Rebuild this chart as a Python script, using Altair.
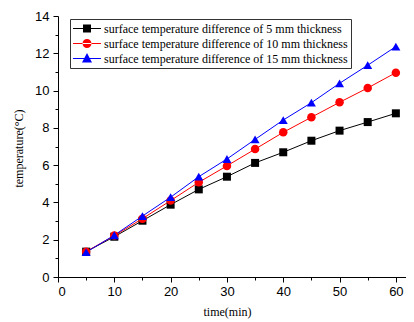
import altair as alt
import pandas as pd

times = [5, 10, 15, 20, 25, 30, 35, 40, 45, 50, 55, 60]
t5 = [1.36, 2.16, 3.02, 3.88, 4.70, 5.38, 6.12, 6.69, 7.31, 7.85, 8.31, 8.78]
t10 = [1.36, 2.22, 3.13, 4.10, 5.08, 5.96, 6.86, 7.76, 8.57, 9.37, 10.14, 10.96]
t15 = [1.33, 2.24, 3.27, 4.28, 5.38, 6.33, 7.38, 8.42, 9.35, 10.39, 11.36, 12.36]
names = [
    "surface temperature difference of 5 mm thickness",
    "surface temperature difference of 10 mm thickness",
    "surface temperature difference of 15 mm thickness",
]
colors = ["#000000", "#ff0000", "#0000ff"]
shapes = ["square", "circle", "triangle-up"]
legend_paths = [
    "M-2.15,-0.077H2.15V0.077H-2.15Z M-0.615,-0.615H0.615V0.615H-0.615Z",
    "M-2.15,-0.077H2.15V0.077H-2.15Z M-0.69,0A0.69,0.69,0,1,0,0.69,0A0.69,0.69,0,1,0,-0.69,0Z",
    "M-2.15,-0.077H2.15V0.077H-2.15Z M0,-0.85L0.77,0.62H-0.77Z",
]

rows = []
for name, vals in zip(names, [t5, t10, t15]):
    for t, v in zip(times, vals):
        rows.append({"time": t, "temp": v, "series": name})
df = pd.DataFrame(rows)

xscale = alt.Scale(domain=[0, 61.8], nice=False, zero=False)
yscale = alt.Scale(domain=[0, 14], nice=False)

xaxis = alt.Axis(
    values=list(range(0, 62, 5)),
    labelExpr="datum.value % 10 ? '' : datum.label",
    labelFontSize={"condition": {"test": "datum.value % 10", "value": 0}, "value": 13},
    tickSize={"condition": {"test": "datum.value % 10", "value": 3}, "value": 5},
    labelOverlap=False,
    grid=False,
    domainColor="black", tickColor="black", labelColor="black",
    labelFont="Liberation Sans", labelPadding=3,
    title="time(min)", titleFont="Liberation Serif", titleFontSize=12,
    titleFontWeight="normal", titleColor="black", titleX=169, titleY=29,
)
yaxis = alt.Axis(
    values=list(range(0, 15)),
    labelExpr="datum.value % 2 ? '' : datum.label",
    labelFontSize={"condition": {"test": "datum.value % 2", "value": 0}, "value": 13},
    tickSize={"condition": {"test": "datum.value % 2", "value": 3}, "value": 5},
    labelOverlap=False,
    labelBound=False,
    grid=False,
    domainColor="black", tickColor="black", labelColor="black",
    labelFont="Liberation Sans", labelPadding=4,
    title="temperature(°C)", titleFont="Liberation Serif", titleFontSize=12,
    titleFontWeight="normal", titleColor="black", titleX=-33, titleY=132,
)

base = alt.Chart(df).encode(
    x=alt.X("time:Q", scale=xscale, axis=xaxis),
    y=alt.Y("temp:Q", scale=yscale, axis=yaxis),
)

lines = base.mark_line(strokeWidth=1).encode(
    color=alt.Color("series:N", scale=alt.Scale(domain=names, range=colors), legend=None),
    detail="series:N",
)

points = base.mark_point(filled=True, opacity=1).encode(
    color=alt.Color("series:N", scale=alt.Scale(domain=names, range=colors), legend=None),
    shape=alt.Shape("series:N", scale=alt.Scale(domain=names, range=shapes), legend=None),
    size=alt.Size("series:N", scale=alt.Scale(domain=names, range=[64, 81, 100]), legend=None),
)

leg = dict(
    title=None, orient="none", legendX=12, legendY=3,
    symbolSize=169,
    labelFont="Liberation Serif", labelFontSize=12, labelColor="black",
    labelLimit=400, rowPadding=2, symbolOffset=7.5, labelOffset=10.5,
    strokeColor="#333333", fillColor="white", padding=3,
    symbolStrokeWidth=0,
)

legend_layer = base.transform_filter("datum.time < 0").mark_point(filled=True, opacity=1).encode(
    color=alt.Color("series:N", scale=alt.Scale(domain=names, range=colors), legend=alt.Legend(**leg)),
    shape=alt.Shape(
        "series:N",
        scale=alt.Scale(domain=names, range=legend_paths),
        legend=alt.Legend(**leg),
    ),
)

chart = (
    alt.layer(lines, points, legend_layer)
    .resolve_scale(shape="independent", size="independent", color="independent")
    .properties(
        width=348, height=261,
        autosize=alt.AutoSizeParams(type="none"),
        padding={"left": 50, "top": 8, "right": 0, "bottom": 45},
        background="white",
    )
    .configure_view(stroke=None)
)

chart.save("out.html", embed_options={"renderer": "svg", "actions": False})
